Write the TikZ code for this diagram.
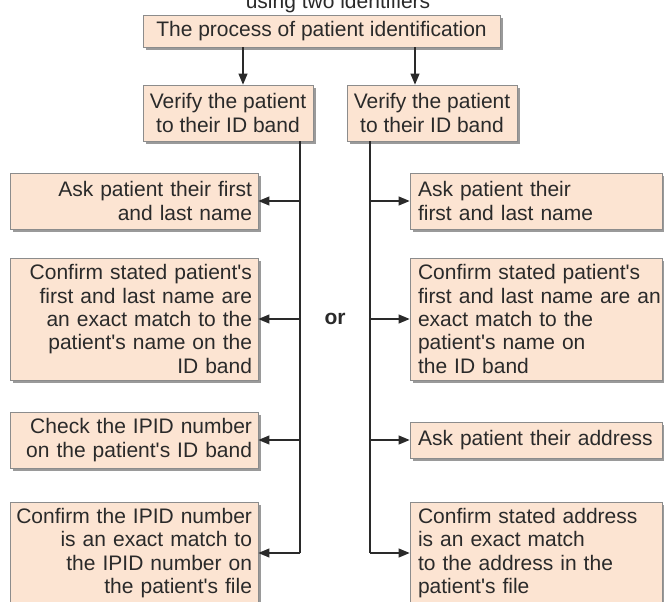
\documentclass[tikz,border=0pt]{standalone}
\usepackage{fontspec}
\setmainfont{Liberation Sans}
\usetikzlibrary{arrows.meta,shadows}
\definecolor{boxfill}{HTML}{FCE4D2}
\definecolor{boxline}{HTML}{8C8C8C}
\definecolor{shade}{HTML}{9A9A9A}
\definecolor{ink}{HTML}{2A2A2A}
\newcommand{\ap}{\textquotesingle}
\begin{document}
\begin{tikzpicture}[x=1pt,y=-1pt,
  txt/.style={font=\fontsize{21}{23.3}\selectfont, text=ink},
  box/.style={txt, draw=boxline, line width=0.8pt, fill=boxfill, inner xsep=6pt, inner ysep=2pt,
    general shadow={fill=shade, shadow xshift=3pt, shadow yshift=-3pt}},
  topbox/.style={box, align=center},
  lbox/.style={box, minimum width=248pt, text width=236pt, align=right},
  rbox/.style={box, minimum width=252pt, inner xsep=8pt, text width=236pt, align=left},
  conn/.style={draw=ink, line width=1.1pt},
  arr/.style={conn, -{Triangle[length=11pt,width=9pt]}}
]
\useasboundingbox (0,0) rectangle (664,602);
\fill[white] (0,0) rectangle (664,602);
\clip (0,0) rectangle (664,602);

\node[txt, anchor=base] (sub) at (338,9) {using two identifiers};

\node[topbox, minimum width=357pt, minimum height=32pt] (title) at (321.5,31) {The process of patient identification};
\node[topbox, minimum width=170pt, minimum height=56pt] (vl) at (228,113) {Verify the patient\\to their ID band};
\node[topbox, minimum width=170pt, minimum height=56pt] (vr) at (432,113) {Verify the patient\\to their ID band};

\node[lbox, minimum height=56pt] (l1) at (134,201) {Ask patient their first\\and last name};
\node[lbox, minimum height=122pt] (l2) at (134,319) {\mbox{Confirm stated patient\ap s}\\\mbox{first and last name are}\\\mbox{an exact match to the}\\\mbox{patient\ap s name on the}\\ID band};
\node[lbox, minimum height=56pt] (l3) at (134,440) {\mbox{Check the IPID number}\\\mbox{on the patient\ap s ID band}};
\node[lbox, minimum height=102pt] (l4) at (134,553) {\mbox{Confirm the IPID number}\\\mbox{is an exact match to}\\\mbox{the IPID number on}\\\mbox{the patient\ap s file}};

\node[rbox, minimum height=56pt] (r1) at (536,201) {Ask patient their\\\mbox{first and last name}};
\node[rbox, minimum height=122pt] (r2) at (536,319) {\mbox{Confirm stated patient\ap s}\\\mbox{first and last name are an}\\\mbox{exact match to the}\\\mbox{patient\ap s name on}\\the ID band};
\node[rbox, minimum height=36pt] (r3) at (536,440) {\mbox{Ask patient their address}};
\node[rbox, minimum height=102pt] (r4) at (536,553) {\mbox{Confirm stated address}\\\mbox{is an exact match}\\\mbox{to the address in the}\\\mbox{patient\ap s file}};

\node[txt, font=\fontsize{21}{23.3}\selectfont\bfseries] (or) at (335,319) {or};

\coordinate (ax) at (243,0);
\coordinate (bx) at (415,0);
\coordinate (lx) at (300,0);
\coordinate (rx) at (370,0);

\draw[arr] (title.south -| ax) -- (vl.north -| ax);
\draw[arr] (title.south -| bx) -- (vr.north -| bx);

\draw[conn] (vl.south -| lx) -- (l4.east -| lx);
\draw[conn] (vr.south -| rx) -- (r4.west -| rx);

\draw[arr] (l1.east -| lx) -- (l1.east);
\draw[arr] (l2.east -| lx) -- (l2.east);
\draw[arr] (l3.east -| lx) -- (l3.east);
\draw[arr] (l4.east -| lx) -- (l4.east);

\draw[arr] (r1.west -| rx) -- (r1.west);
\draw[arr] (r2.west -| rx) -- (r2.west);
\draw[arr] (r3.west -| rx) -- (r3.west);
\draw[arr] (r4.west -| rx) -- (r4.west);
\end{tikzpicture}
\end{document}
